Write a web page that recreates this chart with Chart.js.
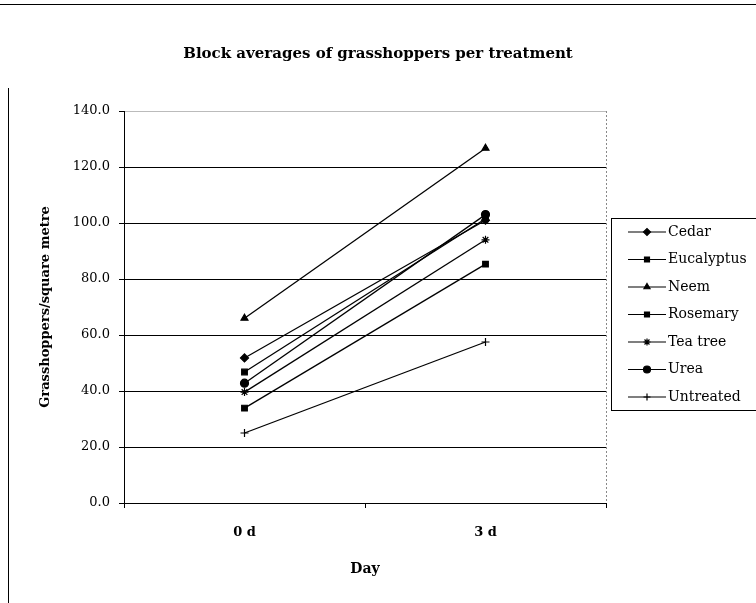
<!DOCTYPE html>
<html>
<head>
<meta charset="utf-8">
<script src="https://cdn.jsdelivr.net/npm/chart.js@4.4.1/dist/chart.umd.min.js"></script>
<style>
  html, body { margin: 0; padding: 0; background: #fff; }
  #wrap { position: relative; width: 756px; height: 603px; }
  #frameTop { position: absolute; left: 0; top: 4px; width: 756px; border-top: 1px solid #000; }
  #frameLeft { position: absolute; left: 8px; top: 88px; height: 515px; border-left: 1px solid #000; }
</style>
</head>
<body>
<div id="wrap">
  <canvas id="chart" width="756" height="603"></canvas>
  <div id="frameTop"></div>
  <div id="frameLeft"></div>
</div>
<script>
// --- DATA ---
const days = ['0 d', '3 d'];
const treatments = ['Cedar', 'Eucalyptus', 'Neem', 'Rosemary', 'Tea tree', 'Urea', 'Untreated'];
const cedar = [51.8, 101.0];
const eucalyptus = [46.8, 101.5];
const neem = [66.0, 126.7];
const rosemary = [33.9, 85.3];
const teaTree = [39.6, 94.0];
const urea = [42.8, 103.0];
const untreated = [25.0, 57.5];
const markers = ['rectRot', 'rect', 'triangle', 'rect', 'star', 'circle', 'cross'];
const yTicks = [0, 20, 40, 60, 80, 100, 120, 140];

const seriesValues = [cedar, eucalyptus, neem, rosemary, teaTree, urea, untreated];
const serif = "'DejaVu Serif', 'Liberation Serif', serif";

// --- LEGEND + FRAME (drawn on canvas) ---
const frameAndLegend = {
    id: 'frameAndLegend',
    afterDraw(chart) {
        const ctx = chart.ctx;
        const area = chart.chartArea;
        ctx.save();

        // dotted right edge of plot area
        ctx.strokeStyle = '#888';
        ctx.lineWidth = 1;
        ctx.setLineDash([2, 2]);
        ctx.beginPath();
        ctx.moveTo(area.right + 0.5, area.top);
        ctx.lineTo(area.right + 0.5, area.bottom);
        ctx.stroke();
        ctx.setLineDash([]);

        // legend box
        ctx.strokeStyle = '#000';
        ctx.strokeRect(611.5, 218.5, 160, 192);

        ctx.font = "14px " + serif;
        ctx.textBaseline = 'middle';
        chart.data.datasets.forEach((ds, i) => {
            const y = 232 + i * 27.5;
            ctx.strokeStyle = '#000';
            ctx.fillStyle = '#000';
            ctx.lineWidth = 1.2;
            ctx.beginPath();
            ctx.moveTo(628, y);
            ctx.lineTo(666, y);
            ctx.stroke();
            Chart.helpers.drawPoint(ctx, {
                pointStyle: ds.pointStyle,
                radius: 3.5,
                rotation: 0,
                borderWidth: 1.2
            }, 647, y);
            ctx.fillStyle = '#000';
            ctx.fillText(ds.label, 668, y);
        });
        ctx.restore();
    }
};

// --- CHART ---
const ctx = document.getElementById('chart');
new Chart(ctx, {
    type: 'line',
    data: {
        labels: days,
        datasets: treatments.map((name, i) => ({
            label: name,
            data: seriesValues[i],
            borderColor: '#000',
            backgroundColor: '#000',
            borderWidth: 1.3,
            pointStyle: markers[i],
            pointRadius: 4,
            pointBorderWidth: 1.2,
            tension: 0
        }))
    },
    options: {
        responsive: false,
        animation: false,
        layout: { padding: 0 },
        plugins: {
            legend: { display: false },
            tooltip: { enabled: false },
            title: {
                display: true,
                text: 'Block averages of grasshoppers per treatment',
                color: '#000',
                font: { family: serif, size: 15, weight: 'bold' },
                padding: { top: 45, bottom: 48 }
            }
        },
        scales: {
            x: {
                offset: true,
                afterFit: scale => { scale.height = 100; },
                grid: { offset: true, drawOnChartArea: false, color: '#000', tickColor: '#000', tickLength: 5 },
                border: { color: '#000', width: 1 },
                ticks: { color: '#000', padding: 17, font: { family: serif, size: 13, weight: 'bold' } },
                title: {
                    display: true,
                    text: 'Day',
                    color: '#000',
                    font: { family: serif, size: 14, weight: 'bold' },
                    padding: { top: 0, bottom: 25 }
                }
            },
            y: {
                min: 0,
                max: 140,
                afterFit: scale => { scale.width = 124; },
                afterBuildTicks: scale => { scale.ticks = yTicks.map(v => ({ value: v })); },
                grid: {
                    color: c => (c.tick && c.tick.value === 140) ? '#bbb' : '#000',
                    tickColor: '#000',
                    tickLength: 5,
                    lineWidth: 1
                },
                border: { color: '#000', width: 1 },
                ticks: {
                    color: '#000',
                    padding: 9,
                    font: { family: serif, size: 13 },
                    callback: v => Number(v).toFixed(1)
                },
                title: {
                    display: true,
                    text: 'Grasshoppers/square metre',
                    color: '#000',
                    font: { family: serif, size: 13, weight: 'bold' },
                    padding: { top: 38, bottom: 0 }
                }
            },
            // empty right axis reserving room for the legend
            yRight: {
                position: 'right',
                min: 0,
                max: 140,
                afterFit: scale => { scale.width = 150; },
                grid: { display: false, drawTicks: false },
                border: { display: false },
                ticks: { display: false }
            }
        }
    },
    plugins: [frameAndLegend]
});
</script>
</body>
</html>
